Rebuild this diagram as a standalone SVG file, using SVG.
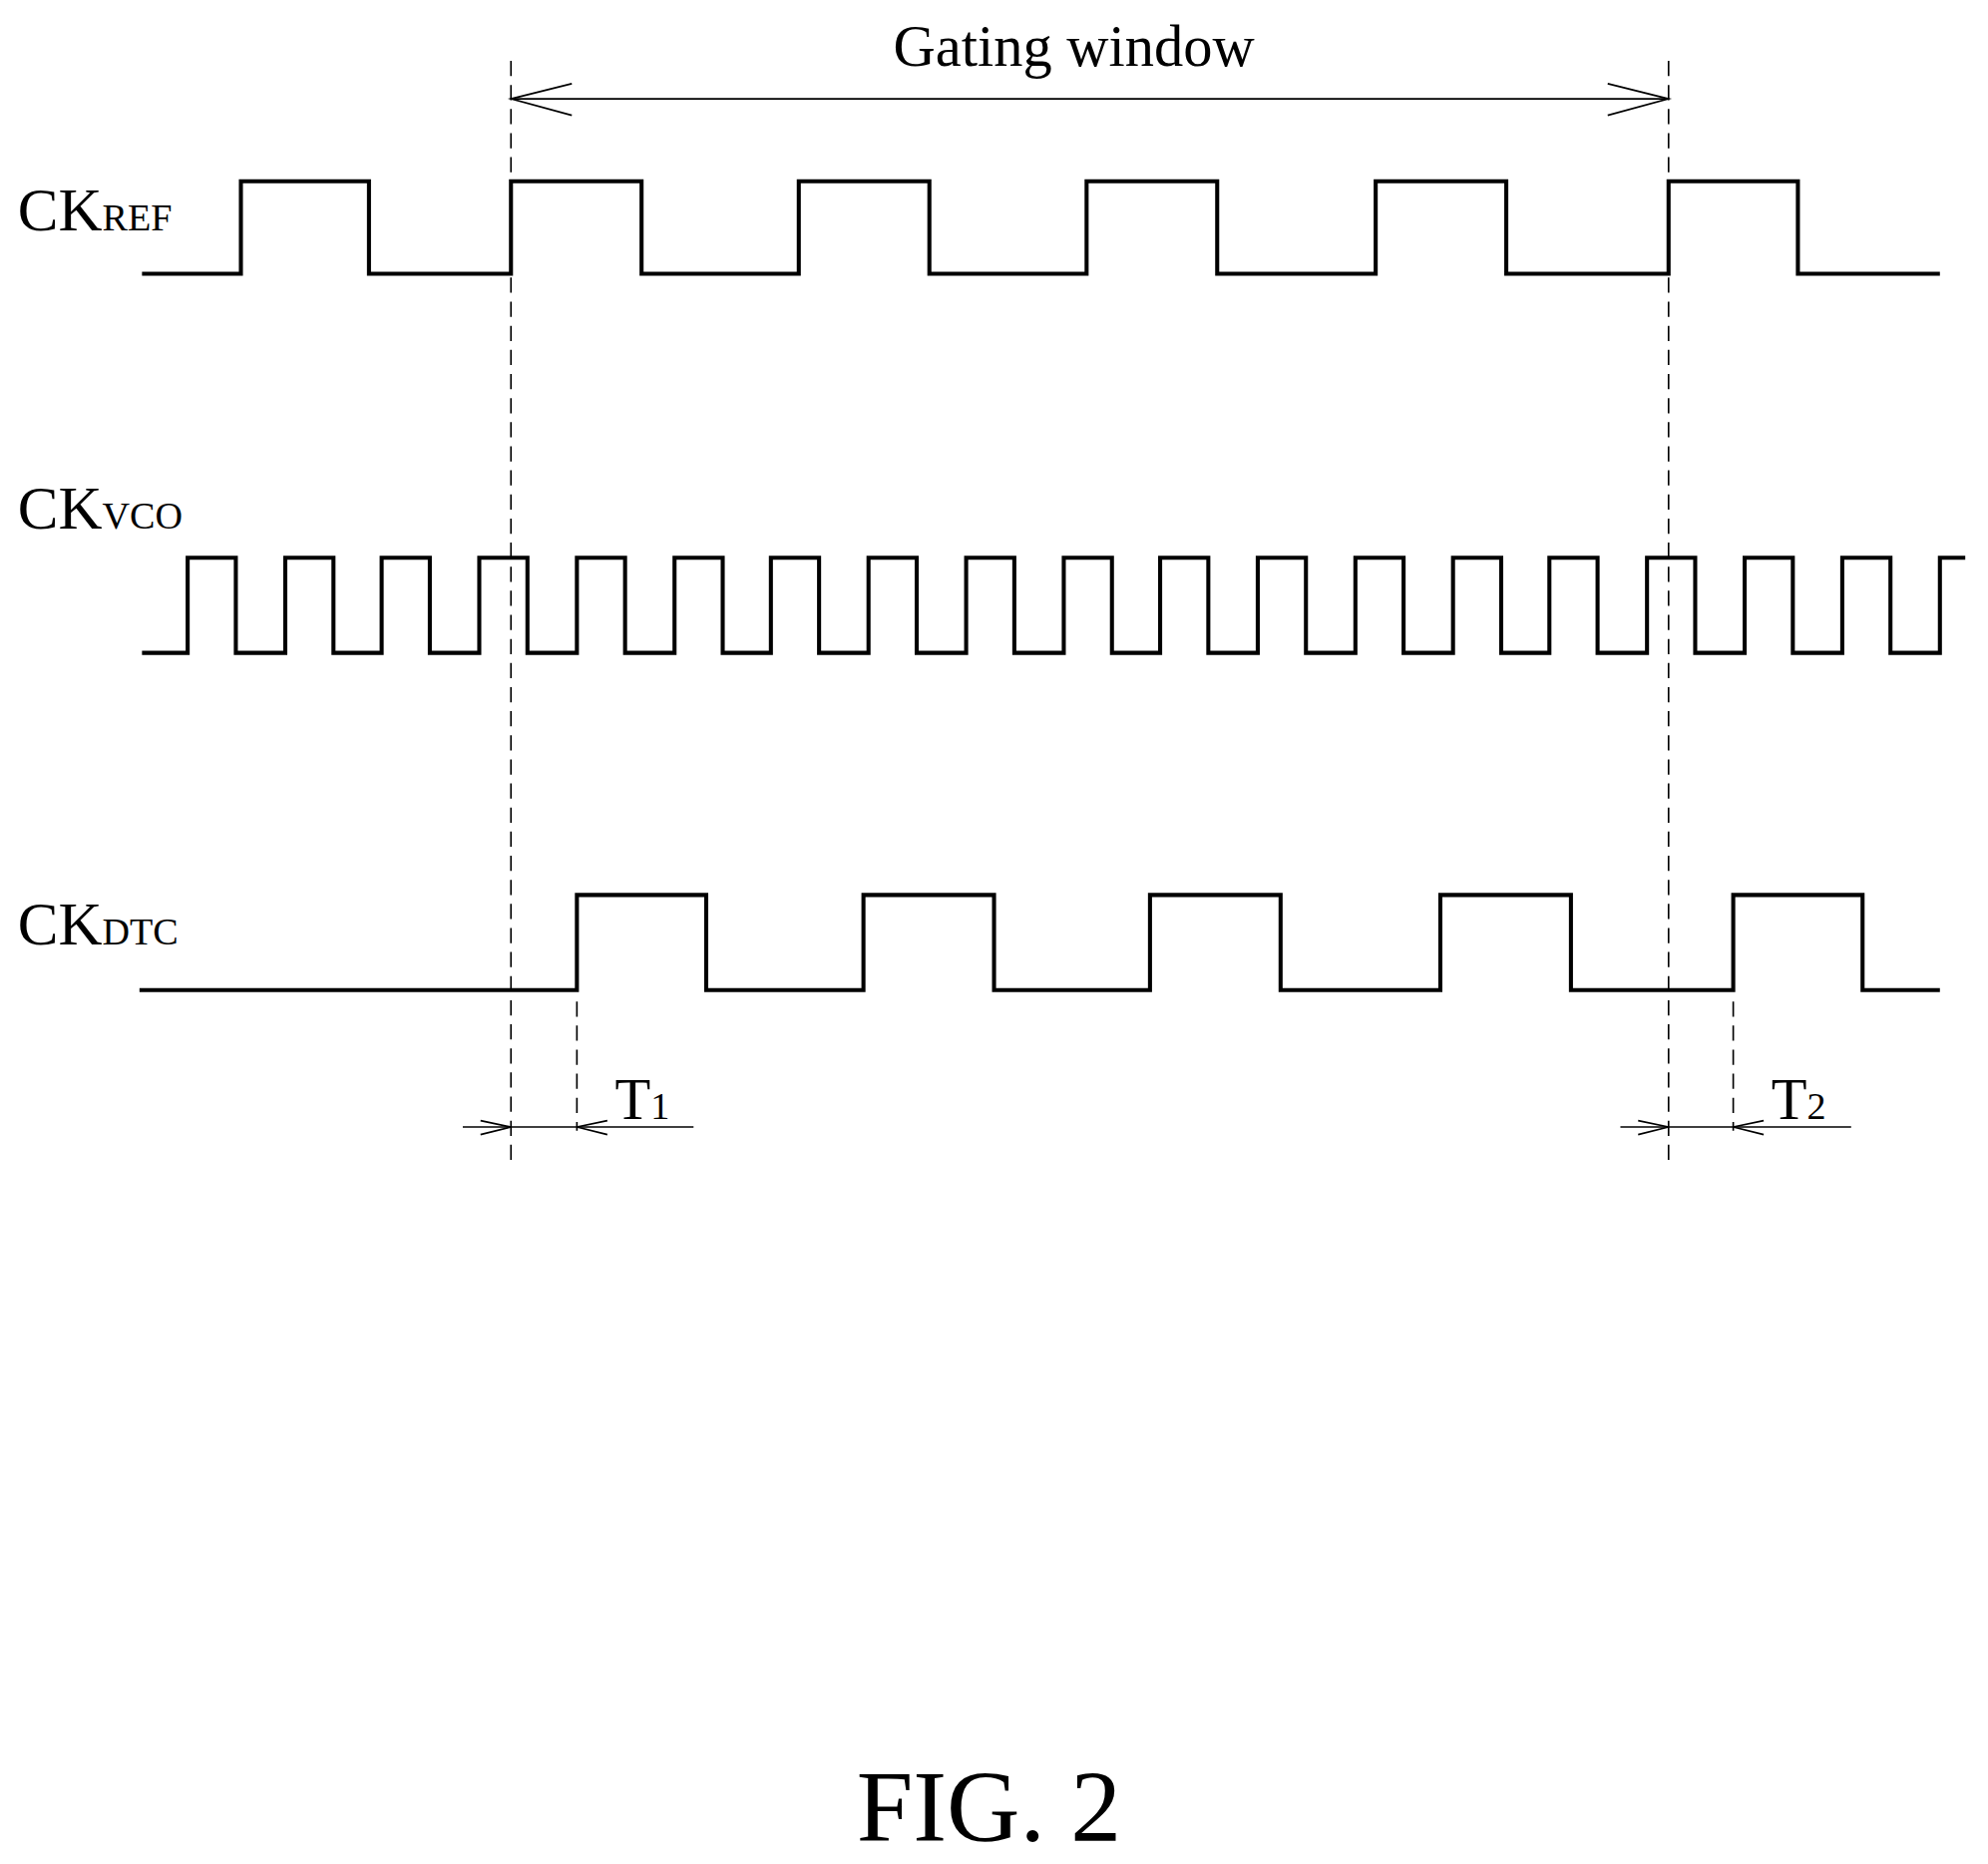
<svg xmlns="http://www.w3.org/2000/svg" width="1993" height="1869" viewBox="0 0 1993 1869">
<style>
.sig{fill:none;stroke:#000;stroke-width:3.2;stroke-linejoin:miter}
.dash{fill:none;stroke:#000;stroke-width:1.3;stroke-dasharray:12,7}
.thin{fill:none;stroke:#000;stroke-width:1.3}
text{font-family:"Liberation Serif",serif;fill:#000}
</style>
<rect width="1993" height="1869" fill="#fff"/>
<g transform="scale(1.2711)">
<g id="connectors">
<line class="dash" x1="403" y1="48" x2="403" y2="918"/>
<line class="dash" x1="1316" y1="48" x2="1316" y2="918"/>
<line class="dash" x1="455" y1="790" x2="455" y2="892"/>
<line class="dash" x1="1367" y1="790" x2="1367" y2="892"/>
<line class="thin" x1="403" y1="78" x2="1316" y2="78"/>
<polyline class="thin" points="451,66 403,78 451,91"/>
<polyline class="thin" points="1268,66 1316,78 1268,91"/>
<line class="thin" x1="365" y1="889" x2="547" y2="889"/>
<polyline class="thin" points="379,884 403,889 379,895"/>
<polyline class="thin" points="479,884 455,889 479,895"/>
<line class="thin" x1="1278" y1="889" x2="1460" y2="889"/>
<polyline class="thin" points="1292,884 1316,889 1292,895"/>
<polyline class="thin" points="1391,884 1367,889 1391,895"/>
</g>
<g id="ckref">
<polyline class="sig" points="112,216 190,216 190,143 291,143 291,216 403,216 403,143 506,143 506,216 630,216 630,143 733,143 733,216 857,216 857,143 960,143 960,216 1085,216 1085,143 1188,143 1188,216 1316,216 1316,143 1418,143 1418,216 1530,216"/>
<text x="14" y="182" font-size="48">CK<tspan font-size="30">REF</tspan></text>
</g>
<g id="ckvco">
<polyline class="sig" points="112,515 148,515 148,440 186,440 186,515 225,515 225,440 263,440 263,515 301,515 301,440 339,440 339,515 378,515 378,440 416,440 416,515 455,515 455,440 493,440 493,515 532,515 532,440 570,440 570,515 608,515 608,440 646,440 646,515 685,515 685,440 723,440 723,515 762,515 762,440 800,440 800,515 839,515 839,440 877,440 877,515 915,515 915,440 953,440 953,515 992,515 992,440 1030,440 1030,515 1069,515 1069,440 1107,440 1107,515 1146,515 1146,440 1184,440 1184,515 1222,515 1222,440 1260,440 1260,515 1299,515 1299,440 1337,440 1337,515 1376,515 1376,440 1414,440 1414,515 1453,515 1453,440 1491,440 1491,515 1530,515 1530,440 1550,440"/>
<text x="14" y="417" font-size="48">CK<tspan font-size="30">VCO</tspan></text>
</g>
<g id="ckdtc">
<polyline class="sig" points="110,781 455,781 455,706 557,706 557,781 681,781 681,706 784,706 784,781 907,781 907,706 1010,706 1010,781 1136,781 1136,706 1239,706 1239,781 1367,781 1367,706 1469,706 1469,781 1530,781"/>
<text x="14" y="745" font-size="48">CK<tspan font-size="30">DTC</tspan></text>
</g>
<g id="labels">
<text x="847" y="52" font-size="46" text-anchor="middle">Gating window</text>
<text x="485" y="883" font-size="46">T<tspan font-size="30">1</tspan></text>
<text x="1397" y="883" font-size="46">T<tspan font-size="30">2</tspan></text>
<text x="780" y="1452" font-size="80" text-anchor="middle">FIG. 2</text>
</g>
</g>
</svg>
